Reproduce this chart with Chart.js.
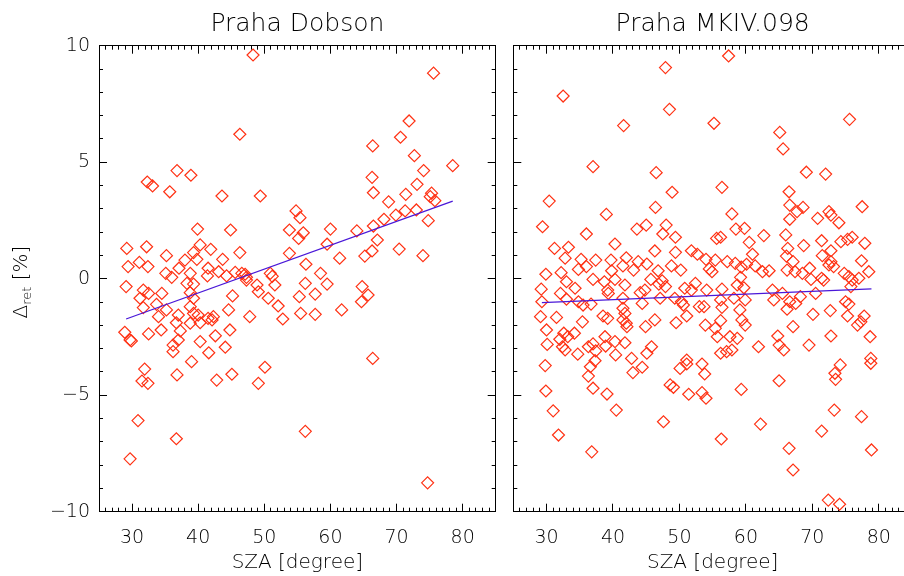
<!DOCTYPE html>
<html>
<head>
<meta charset="utf-8">
<script src="https://cdn.jsdelivr.net/npm/chart.js@4.4.1/dist/chart.umd.min.js"></script>
<style>
  html, body { margin: 0; padding: 0; background: #fff; }
  body { width: 904px; height: 576px; overflow: hidden; position: relative; }
  canvas { position: absolute; top: 0; }
  #left { left: 0; width: 505px; height: 576px; }
  #right { left: 505px; width: 420px; height: 576px; }
</style>
</head>
<body>
<canvas id="left" width="505" height="576"></canvas>
<canvas id="right" width="420" height="576"></canvas>
<script>
// 축 눈금
const szaTicks = [30, 40, 50, 60, 70, 80];
const szaMinorTicks = Array.from({ length: 59 }, (_, i) => 26 + i);
const deltaTicks = [-10, -5, 0, 5, 10];
const deltaMinorTicks = Array.from({ length: 19 }, (_, i) => -9 + i);

// Praha Dobson
const dobsonSza = [
  48.3, 75.6, 71.9, 46.3, 70.6, 66.4, 72.7, 78.5, 36.8, 38.9,
  32.3, 33.1, 74.1, 66.3, 73.1, 35.7, 66.5, 71.4, 43.6, 49.4,
  75.3, 75.1, 75.8, 68.8, 54.8, 55.4, 71.3, 69.9, 73.0, 68.1,
  74.8, 39.9, 44.9, 53.8, 60.0, 55.9, 55.2, 64.0, 66.5, 67.1,
  59.5, 29.2, 32.2, 35.2, 39.3, 40.3, 41.9, 46.3, 53.8, 70.4,
  66.3, 65.2, 61.4, 74.0, 56.3, 29.4, 31.1, 32.4, 38.0, 37.1,
  39.8, 43.7, 35.1, 38.8, 41.5, 43.1, 45.6, 47.1, 50.9, 58.5,
  36.0, 41.4, 44.3, 47.3, 51.2, 29.1, 31.7, 32.5, 31.2, 34.5,
  31.7, 33.7, 35.2, 38.3, 39.3, 38.8, 39.3, 38.8, 37.0, 34.0,
  39.3, 40.0, 41.5, 42.3, 42.1, 36.7, 38.8, 40.3, 37.3, 34.4,
  28.9, 29.7, 29.9, 32.5, 37.0, 36.2, 36.2, 40.3, 42.6, 44.1,
  41.6, 44.8, 44.6, 45.2, 46.6, 47.3, 48.9, 49.1, 50.6, 51.6,
  52.1, 52.8, 47.8, 55.3, 56.2, 57.7, 59.5, 55.5, 57.7, 61.7,
  64.8, 65.7, 64.7, 66.4, 39.0, 31.9, 31.5, 32.4, 36.8, 42.8,
  45.1, 49.1, 50.1, 30.9, 36.7, 56.2, 29.7, 74.7
];
const dobsonDelta = [
  9.60, 8.82, 6.77, 6.20, 6.07, 5.70, 5.28, 4.85, 4.64, 4.44,
  4.15, 3.98, 4.64, 4.35, 4.05, 3.73, 3.69, 3.62, 3.55, 3.55,
  3.67, 3.52, 3.35, 3.30, 2.91, 2.62, 2.91, 2.73, 2.95, 2.55,
  2.49, 2.13, 2.09, 2.09, 2.13, 1.97, 1.73, 2.05, 2.26, 1.66,
  1.48, 1.30, 1.37, 0.99, 1.12, 1.45, 1.26, 1.12, 1.09, 1.27,
  1.19, 0.97, 0.88, 0.99, 0.62, 0.52, 0.70, 0.52, 0.80, 0.45,
  0.83, 0.83, 0.23, 0.23, 0.45, 0.30, 0.27, 0.19, 0.23, 0.23,
  0.06, 0.12, 0.12, 0.06, 0.10, -0.34, -0.49, -0.63, -0.84, -0.63,
  -1.24, -1.10, -1.34, -0.20, -0.23, -0.60, -0.84, -1.20, -1.56, -1.63,
  -1.49, -1.56, -1.70, -1.63, -1.77, -1.89, -1.91, -1.89, -2.24, -2.20,
  -2.30, -2.63, -2.67, -2.37, -2.63, -2.85, -3.13, -2.70, -2.45, -2.94,
  -3.18, -2.20, -1.34, -0.74, 0.23, -0.06, -0.27, -0.56, -0.84, -0.27,
  -1.17, -1.73, -1.63, -0.77, -0.20, -0.66, -0.23, -1.49, -1.53, -1.34,
  -0.34, -0.70, -0.99, -3.42, -3.56, -3.88, -4.39, -4.49, -4.13, -4.35,
  -4.10, -4.49, -3.80, -6.09, -6.87, -6.55, -7.73, -8.76
];
const dobsonFitSza = [29.1, 78.5];
const dobsonFitDelta = [-1.73, 3.33];

// Praha MKIV.098
const mkivSza = [
  57.4, 47.9, 32.5, 48.5, 41.6, 55.2, 75.6, 65.1, 65.6, 37.0,
  46.5, 69.1, 72.0, 48.9, 56.4, 66.5, 30.4, 46.4, 66.6, 77.5,
  39.0, 57.9, 67.7, 68.6, 70.8, 72.5, 72.8, 74.0, 66.6, 29.4,
  36.0, 43.6, 45.0, 48.0, 47.5, 49.4, 55.6, 56.2, 58.5, 59.8,
  62.7, 66.0, 31.2, 33.3, 40.3, 46.3, 49.4, 51.8, 52.7, 60.5,
  61.0, 66.3, 68.7, 71.4, 72.8, 74.3, 75.3, 76.0, 77.9, 32.8,
  35.2, 37.4, 39.7, 42.0, 43.8, 45.1, 54.0, 55.4, 57.2, 58.4,
  60.1, 66.1, 67.1, 71.5, 72.8, 77.4, 29.9, 32.2, 34.8, 36.0,
  39.8, 41.5, 43.1, 46.8, 48.8, 50.2, 29.2, 32.1, 34.3, 33.0,
  37.0, 38.7, 39.2, 39.3, 40.3, 41.8, 44.1, 44.8, 45.7, 46.9,
  47.4, 47.9, 49.3, 50.8, 51.8, 52.4, 33.0, 34.8, 29.3, 36.7,
  35.5, 41.5, 44.4, 47.1, 50.3, 50.6, 53.0, 29.1, 31.5, 35.4,
  38.5, 39.2, 41.5, 41.8, 41.5, 42.0, 42.1, 46.3, 44.9, 49.5,
  51.1, 30.0, 32.6, 33.2, 34.2, 32.0, 30.1, 32.4, 32.8, 34.7,
  36.3, 37.0, 37.4, 38.8, 38.9, 40.3, 41.8, 40.4, 42.8, 45.1,
  45.8, 51.1, 54.5, 54.9, 61.4, 62.5, 63.5, 59.3, 66.2, 67.4,
  68.5, 69.6, 69.8, 71.4, 71.7, 72.5, 73.2, 74.8, 75.5, 76.0,
  77.0, 78.5, 59.2, 56.4, 58.7, 59.7, 54.1, 56.2, 58.2, 59.9,
  64.0, 65.5, 64.2, 66.6, 67.5, 68.2, 70.5, 56.4, 59.1, 53.7,
  66.2, 70.1, 72.7, 75.0, 75.5, 75.3, 76.8, 77.3, 77.8, 53.9,
  56.2, 59.4, 59.9, 55.4, 57.6, 58.7, 55.7, 67.1, 64.8, 69.5,
  65.0, 65.7, 72.8, 78.7, 61.9, 56.2, 57.1, 57.9, 78.8, 75.8,
  29.8, 29.9, 31.0, 31.8, 36.8, 37.0, 36.3, 36.6, 37.3, 39.1,
  40.5, 43.0, 44.4, 47.6, 48.6, 49.1, 50.1, 51.1, 51.4, 53.4,
  53.8, 53.4, 54.0, 56.3, 59.3, 62.2, 65.0, 66.5, 67.1, 71.4,
  73.3, 73.4, 73.5, 74.2, 72.4, 74.1, 77.4, 78.8, 78.9
];
const mkivDelta = [
  9.56, 9.06, 7.84, 7.27, 6.57, 6.67, 6.84, 6.28, 5.57, 4.81,
  4.55, 4.57, 4.49, 3.71, 3.92, 3.73, 3.33, 3.06, 3.16, 3.09,
  2.76, 2.78, 2.88, 3.06, 2.59, 2.88, 2.73, 2.40, 2.55, 2.23,
  1.92, 2.13, 2.30, 2.30, 1.92, 1.78, 1.73, 1.78, 2.13, 2.16,
  1.85, 1.88, 1.30, 1.35, 1.49, 1.19, 1.13, 1.20, 1.05, 1.56,
  1.05, 1.30, 1.42, 1.63, 1.20, 1.59, 1.69, 1.78, 1.52, 0.88,
  0.83, 0.80, 0.80, 0.90, 0.73, 0.63, 0.83, 0.80, 0.73, 0.66,
  0.62, 0.97, 0.73, 0.99, 0.73, 0.77, 0.19, 0.26, 0.40, 0.52,
  0.34, 0.55, 0.37, 0.34, 0.55, 0.37, -0.45, -0.63, -0.41, -0.13,
  -0.03, -0.13, -0.49, -0.63, -0.03, -0.27, -0.60, -0.49, -0.03, -0.23,
  -0.09, -0.34, -0.84, -0.41, -0.49, -0.20, -0.88, -0.99, -0.99, -1.09,
  -1.13, -0.84, -1.06, -0.84, -0.99, -1.13, -1.20, -1.63, -1.66, -1.85,
  -1.60, -1.70, -1.27, -1.49, -1.77, -1.91, -2.06, -1.77, -2.06, -1.89,
  -1.60, -2.20, -2.34, -2.49, -2.34, -2.60, -2.82, -2.92, -3.06, -3.24,
  -2.92, -2.80, -3.10, -2.49, -2.89, -2.70, -2.75, -3.27, -3.42, -3.20,
  -2.92, -3.49, 0.42, 0.30, 0.55, 0.30, 0.34, 0.50, 0.37, 0.30,
  0.23, 0.45, -0.03, 0.02, -0.06, 0.59, 0.52, 0.23, 0.09, -0.06,
  0.02, 0.30, 0.06, -0.45, -0.27, -0.39, -0.49, -0.91, -0.84, -0.91,
  -0.49, -0.63, -0.91, -0.99, -1.06, -0.77, -0.63, -1.23, -1.34, -1.20,
  -1.31, -1.53, -1.37, -0.99, -1.09, -1.60, -1.99, -1.85, -1.60, -1.99,
  -1.80, -1.77, -1.99, -2.13, -2.49, -2.56, -2.49, -2.06, -2.46, -2.85,
  -2.85, -3.06, -2.46, -2.49, -2.92, -3.20, -3.13, -3.06, -3.42, -0.34,
  -3.73, -4.82, -5.67, -6.71, -7.43, -4.70, -4.18, -3.78, -3.52, -4.95,
  -5.64, -4.03, -3.80, -6.14, -4.56, -4.66, -3.85, -3.66, -4.96, -3.66,
  -4.09, -4.89, -5.13, -6.88, -4.75, -6.24, -4.38, -7.28, -8.21, -6.54,
  -5.64, -4.06, -4.32, -3.70, -9.50, -9.68, -5.92, -3.63, -7.35
];
const mkivFitSza = [29.3, 78.9];
const mkivFitDelta = [-1.03, -0.44];

// 스타일
const black = '#000';
const red = '#ff3214';
const blue = '#4a18d8';
const fontFamily = '"DejaVu Sans", sans-serif';
const fontWeight = 200;

const minusLabel = v => (v < 0 ? '\u2212' + Math.abs(v) : String(v));

// 눈금만 그리는 축 (IDL 스타일: 안쪽 눈금)
function tickAxis(position, values, len, extra) {
  const horizontal = position === 'top' || position === 'bottom';
  return Object.assign({
    type: 'linear',
    position: position,
    min: horizontal ? 25 : -10,
    max: horizontal ? 85 : 10,
    weight: 0,
    afterBuildTicks: s => { s.ticks = values.map(v => ({ value: v })); },
    afterFit: s => { if (horizontal) s.height = 0; else s.width = 0; },
    grid: { drawOnChartArea: false, drawTicks: true, tickLength: -len, tickColor: black, tickWidth: 1 },
    border: { display: false },
    ticks: { display: false, autoSkip: false, maxRotation: 0 }
  }, extra || {});
}

function buildScales(withLabels, yWidth) {
  const frame = { display: true, color: black, width: 1 };
  return {
    x: tickAxis('bottom', szaTicks, 8, {
      weight: 1,
      border: frame,
      afterFit: s => { s.height = 64.3; },
      ticks: {
        display: true, autoSkip: false, maxRotation: 0, padding: 23, color: black,
        font: { family: fontFamily, size: 19, weight: fontWeight },
        callback: v => String(v)
      },
      title: {
        display: true, text: 'SZA [degree]', color: black,
        font: { family: fontFamily, size: 20, weight: fontWeight },
        padding: { top: 0, bottom: 1 }
      }
    }),
    y: tickAxis('left', deltaTicks, 8, {
      weight: 1,
      border: frame,
      afterFit: s => { s.width = yWidth; },
      ticks: {
        display: withLabels, autoSkip: false, padding: 17, color: black,
        font: { family: fontFamily, size: 19, weight: fontWeight },
        labelOffset: ctx => (ctx.tick && ctx.tick.value === 10 ? 6 : (ctx.tick && ctx.tick.value === -10 ? -4 : 0)),
        callback: minusLabel
      }
    }),
    xMinor: tickAxis('bottom', szaMinorTicks, 4),
    yMinor: tickAxis('left', deltaMinorTicks, 4),
    xTop: tickAxis('top', szaTicks, 8, { weight: 1, border: frame }),
    xTopMinor: tickAxis('top', szaMinorTicks, 4),
    yRight: tickAxis('right', deltaTicks, 8, { weight: 1, border: frame }),
    yRightMinor: tickAxis('right', deltaMinorTicks, 4)
  };
}

// 패널 제목과 y축 제목
const panelText = {
  id: 'panelText',
  afterDraw(chart, args, opts) {
    const { ctx, chartArea } = chart;
    ctx.save();
    ctx.fillStyle = black;
    ctx.textAlign = 'center';
    ctx.textBaseline = 'middle';
    ctx.font = fontWeight + ' 25px ' + fontFamily;
    ctx.fillText(opts.title, (chartArea.left + chartArea.right) / 2, 24);
    if (opts.yTitle) {
      const big = fontWeight + ' 20px ' + fontFamily;
      const small = fontWeight + ' 13px ' + fontFamily;
      ctx.font = big;
      const w1 = ctx.measureText('\u0394').width;
      const w3 = ctx.measureText(' [%]').width;
      ctx.font = small;
      const w2 = ctx.measureText('ret').width;
      const total = w1 + w2 + w3;
      ctx.translate(27, 282);
      ctx.rotate(-Math.PI / 2);
      ctx.textAlign = 'left';
      ctx.textBaseline = 'alphabetic';
      let x = -total / 2;
      ctx.font = big;
      ctx.fillText('\u0394', x, 0);
      x += w1;
      ctx.font = small;
      ctx.fillText('ret', x, 4);
      x += w2;
      ctx.font = big;
      ctx.fillText(' [%]', x, 0);
    }
    ctx.restore();
  }
};

function makeChart(canvasId, title, sza, delta, fitSza, fitDelta, withLabels, yWidth, padding) {
  const ctx = document.getElementById(canvasId).getContext('2d');
  return new Chart(ctx, {
    type: 'scatter',
    data: {
      datasets: [
        {
          type: 'line',
          xAxisID: 'x', yAxisID: 'y',
          data: fitSza.map((v, i) => ({ x: v, y: fitDelta[i] })),
          borderColor: blue,
          borderWidth: 1.3,
          pointRadius: 0,
          fill: false,
          tension: 0
        },
        {
          xAxisID: 'x', yAxisID: 'y',
          data: sza.map((v, i) => ({ x: v, y: delta[i] })),
          pointStyle: 'rectRot',
          pointRadius: 6,
          pointBorderWidth: 1.2,
          pointBorderColor: red,
          pointBackgroundColor: 'rgba(0,0,0,0)',
          showLine: false
        }
      ]
    },
    options: {
      responsive: false,
      animation: false,
      devicePixelRatio: 1,
      events: [],
      layout: { padding: padding },
      scales: buildScales(withLabels, yWidth),
      plugins: {
        legend: { display: false },
        tooltip: { enabled: false },
        panelText: { title: title, yTitle: withLabels }
      }
    },
    plugins: [panelText]
  });
}

makeChart('left', 'Praha Dobson', dobsonSza, dobsonDelta, dobsonFitSza, dobsonFitDelta,
  true, 99, { top: 45.7, right: 9.3, bottom: 0, left: 0 });
makeChart('right', 'Praha MKIV.098', mkivSza, mkivDelta, mkivFitSza, mkivFitDelta,
  false, 8.3, { top: 45.7, right: 13, bottom: 0, left: 0 });
</script>
</body>
</html>
